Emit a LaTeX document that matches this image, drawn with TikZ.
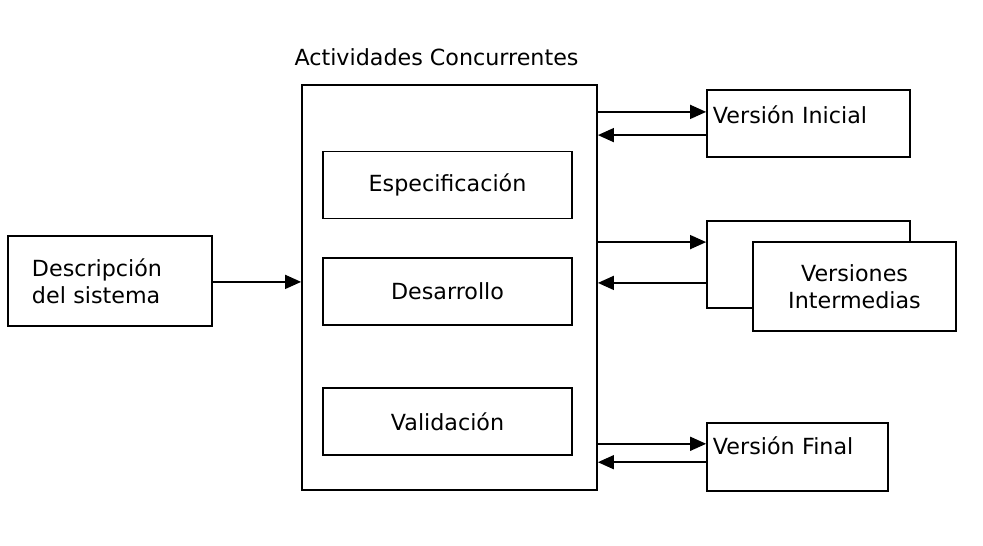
\documentclass[tikz,border=0pt]{standalone}
\usepackage{fontspec}
\setmainfont{DejaVu Sans}
\usepackage{tikz}
\usetikzlibrary{arrows.meta,positioning}

\tikzset{
  box/.style={draw, line width=1.2pt, fill=white, inner sep=0pt},
  act/.style={box, minimum width=6.225cm, minimum height=1.675cm},
  arr/.style={line width=1.1pt, -{Triangle[length=0.4cm,width=0.35cm]}},
  txt/.style={font=\fontsize{15.8}{19.2}\selectfont}
}

\begin{document}
\begin{tikzpicture}[x=0.025cm, y=-0.025cm, every node/.append style={txt}]
  \useasboundingbox (0,0) rectangle (983,545);

  %% Main block with its title
  \node[box, minimum width=7.375cm, minimum height=10.125cm] (main) at (449.5,287.5) {};
  \node (title) at (436.5,57) {Actividades Concurrentes};

  %% Three activities inside the main block
  \foreach \name/\y/\label in {
       esp/185/Especificación,
       des/291.5/Desarrollo,
       val/421.5/Validación
  } {
    \node[act] (\name) at (447.5,\y) {\label};
  }

  %% Input on the left
  \node[box, inner xsep=0.6cm, minimum height=2.25cm, text width=3.9cm, align=left]
    (desc) at (110,281) {Descripción\\del sistema};

  %% Outputs on the right
  \node[box, inner xsep=0.15cm, minimum height=1.675cm, text width=4.775cm,
        text depth=0.43cm, align=left]
    (vi) at (808.5,123.5) {Versión Inicial};
  \node[box, minimum width=5.075cm, minimum height=2.175cm] (vback) at (808.5,264.5) {};
  \node[box, minimum width=5.075cm, minimum height=2.225cm, align=center]
    (vint) at (854.5,286.5) {Versiones\\Intermedias};
  \node[box, inner xsep=0.15cm, minimum height=1.7cm, text width=4.225cm,
        text depth=0.58cm, align=left]
    (vf) at (797.5,457) {Versión Final};

  %% Connectors
  \draw[arr] ([yshift=0.14cm]desc.east |- main.west) -- ([yshift=0.14cm]main.west);
  \draw[arr] ([yshift=0.29cm]vi.west -| main.east) -- ([yshift=0.29cm]vi.west);
  \draw[arr] ([yshift=-0.29cm]vi.west) -- ([yshift=-0.29cm]vi.west -| main.east);
  \draw[arr] ([yshift=0.56cm]vback.west -| main.east) -- ([yshift=0.56cm]vback.west);
  \draw[arr] ([yshift=-0.46cm]vback.west) -- ([yshift=-0.46cm]vback.west -| main.east);
  \draw[arr] ([yshift=0.33cm]vf.west -| main.east) -- ([yshift=0.33cm]vf.west);
  \draw[arr] ([yshift=-0.13cm]vf.west) -- ([yshift=-0.13cm]vf.west -| main.east);
\end{tikzpicture}
\end{document}
